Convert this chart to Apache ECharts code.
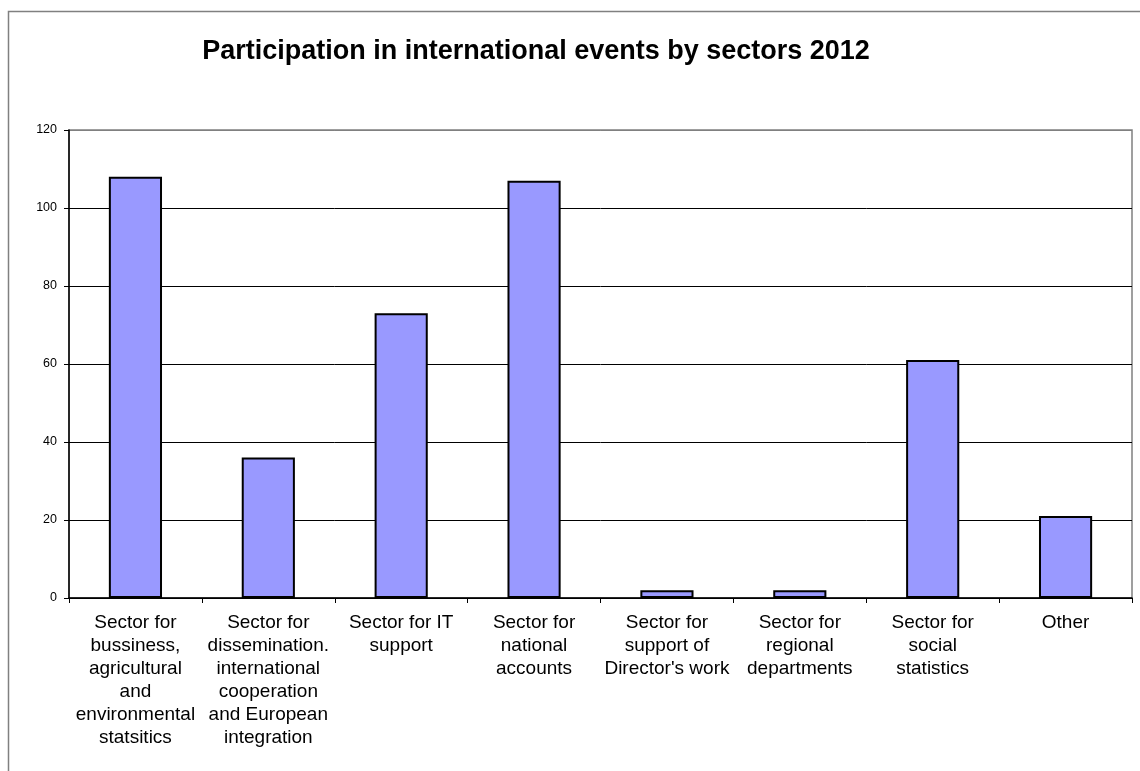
<!DOCTYPE html>
<html>
<head>
<meta charset="utf-8">
<script src="https://cdn.jsdelivr.net/npm/echarts@6/dist/echarts.min.js"></script>
<style>
  html, body { margin: 0; padding: 0; background: #fff; }
  #chart { width: 1140px; height: 771px; }
</style>
</head>
<body>
<div id="chart"></div>
<script>
// Sectors (line breaks follow the wrapped axis labels)
const categories = [
  "Sector for\nbussiness,\nagricultural\nand\nenvironmental\nstatsitics",
  "Sector for\ndissemination.\ninternational\ncooperation\nand European\nintegration",
  "Sector for IT\nsupport",
  "Sector for\nnational\naccounts",
  "Sector for\nsupport of\nDirector's work",
  "Sector for\nregional\ndepartments",
  "Sector for\nsocial\nstatistics",
  "Other"
];
// Number of participations per sector
const participations = [108, 36, 73, 107, 2, 2, 61, 21];
const titleText = "Participation in international events by sectors 2012";

const chart = echarts.init(document.getElementById('chart'), null, { renderer: 'canvas' });
chart.setOption({
  animation: false,
  backgroundColor: '#ffffff',
  graphic: [{
    type: 'rect',
    shape: { x: 8.5, y: 11.5, width: 1200, height: 800 },
    style: { fill: 'none', stroke: '#808080', lineWidth: 1.5 },
    silent: true
  }],
  title: {
    text: titleText,
    left: 531,
    top: 33,
    textAlign: 'center',
    textStyle: { fontFamily: 'Liberation Sans, Arial', fontSize: 27, fontWeight: 'bold', color: '#000' }
  },
  grid: {
    left: 69, top: 130, width: 1063, height: 468,
    show: true, borderColor: '#808080', borderWidth: 1.5, backgroundColor: '#fff'
  },
  xAxis: {
    type: 'category',
    data: categories,
    axisLine: { lineStyle: { color: '#000', width: 1.5 } },
    axisTick: { show: true, length: 5, lineStyle: { color: '#000' } },
    axisLabel: {
      interval: 0, margin: 13, color: '#000',
      fontFamily: 'Liberation Sans, Arial', fontSize: 19, lineHeight: 23
    }
  },
  yAxis: {
    type: 'value',
    min: 0, max: 120, interval: 20,
    axisLine: { show: true, lineStyle: { color: '#000', width: 1.5 } },
    axisTick: { show: true, length: 5, lineStyle: { color: '#000' } },
    axisLabel: { color: '#000', fontFamily: 'Liberation Sans, Arial', fontSize: 12.5, margin: 12 },
    splitLine: { show: true, lineStyle: { color: ['#000', '#000', '#000', '#000', '#000', '#000', '#808080'], width: 1 } }
  },
  series: [{
    type: 'bar',
    data: participations,
    barWidth: '40%',
    itemStyle: { color: '#9999FF', borderColor: '#000', borderWidth: 2 }
  }]
});
</script>
</body>
</html>
